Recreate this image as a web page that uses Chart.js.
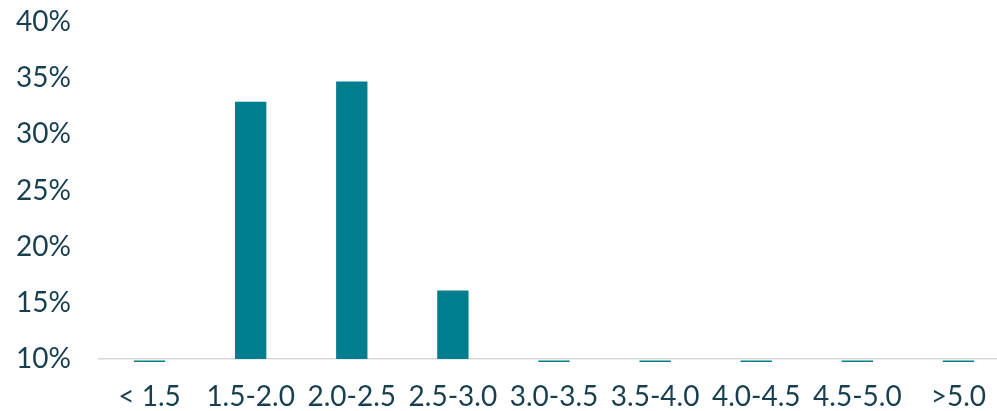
<!DOCTYPE html>
<html>
<head>
<meta charset="utf-8">
<script src="https://cdn.jsdelivr.net/npm/chart.js@4/dist/chart.umd.min.js"></script>
<style>
  html, body { margin: 0; padding: 0; background: #ffffff; overflow: hidden; }
  /* plot area runs a little past the right edge of the window, like the original */
  #wrap { width: 1009px; height: 411px; }
</style>
</head>
<body>
<div id="wrap"><canvas id="barChart"></canvas></div>
<script>
const categories = ["< 1.5", "1.5-2.0", "2.0-2.5", "2.5-3.0", "3.0-3.5", "3.5-4.0", "4.0-4.5", "4.5-5.0", ">5.0"];
const shares = [0, 32.9, 34.7, 16.1, 0, 0, 0, 0, 0];
const yMin = 10;
const yMax = 40;
const yStep = 5;

const textColor = "#173f4f";
const barColor = "#007e8f";

// bins that fall under the axis minimum show as a thin stub below the axis
const stubPlugin = {
  id: "stubs",
  afterDatasetsDraw(chart) {
    const meta = chart.getDatasetMeta(0);
    const bottom = chart.chartArea.bottom;
    const c = chart.ctx;
    c.save();
    c.fillStyle = barColor;
    meta.data.forEach((bar, i) => {
      if (shares[i] <= yMin) {
        c.fillRect(bar.x - bar.width / 2, bottom + 1.5, bar.width, 1.5);
      }
    });
    c.restore();
  },
};

function trimPadding(scale) {
  scale.paddingTop = 0;
  scale.paddingBottom = 0;
  scale.paddingLeft = 0;
  scale.paddingRight = 0;
}

const ctx = document.getElementById("barChart").getContext("2d");
const barChart = new Chart(ctx, {
  type: "bar",
  data: {
    labels: categories,
    datasets: [
      {
        data: shares,
        backgroundColor: barColor,
        borderWidth: 0,
        categoryPercentage: 1,
        barPercentage: 0.31,
        clip: 0,
      },
    ],
  },
  options: {
    responsive: true,
    maintainAspectRatio: false,
    animation: false,
    layout: {
      padding: { left: 15, right: 0, top: 22, bottom: 0 },
    },
    plugins: {
      legend: { display: false },
      tooltip: { enabled: false },
    },
    scales: {
      x: {
        z: 1,
        grid: { display: false, drawTicks: false },
        border: { display: true, color: "#d9d9d9", width: 1.5 },
        ticks: {
          color: textColor,
          padding: 24,
          autoSkip: false,
          maxRotation: 0,
          font: { family: "Lato", size: 28, lineHeight: 1 },
        },
        afterFit: (scale) => {
          scale.height = 52;
          trimPadding(scale);
        },
      },
      y: {
        min: yMin,
        max: yMax,
        grid: { display: false, drawTicks: false },
        border: { display: false },
        ticks: {
          stepSize: yStep,
          color: textColor,
          padding: 28,
          font: { family: "Lato", size: 28, lineHeight: 1 },
          callback: (value) => value + "%",
        },
        afterFit: (scale) => {
          scale.width = 84;
          trimPadding(scale);
        },
      },
    },
  },
  plugins: [stubPlugin],
});
</script>
</body>
</html>
